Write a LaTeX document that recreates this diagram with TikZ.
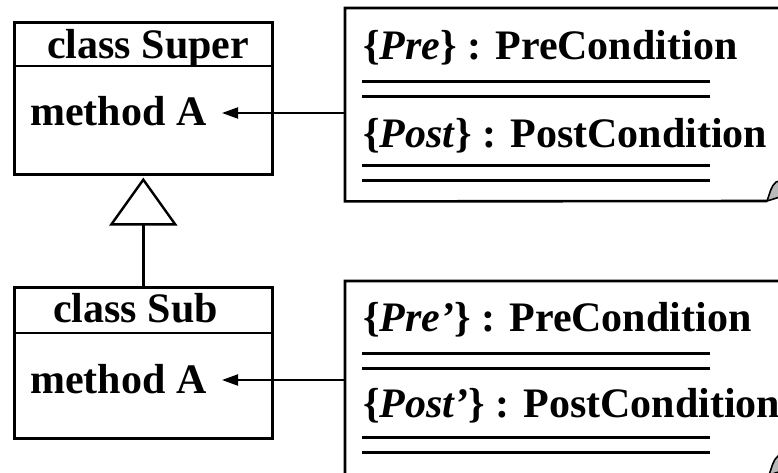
\documentclass[tikz,border=0pt]{standalone}
\usepackage{fontspec}
\setmainfont{Liberation Serif}
\usetikzlibrary{arrows.meta}
\begin{document}
\begin{tikzpicture}[x=1pt,y=-1pt,
  txt/.style={anchor=base west, inner sep=0pt, font=\fontsize{42}{50}\selectfont\bfseries},
  classbox/.style={draw, line width=2.6pt, anchor=north west, inner sep=0pt,
    minimum width=258pt},
  notearea/.style={anchor=north west, inner sep=0pt, minimum width=450pt},
  outline/.style={line width=2.6pt, line join=miter},
  rule/.style={line width=3pt},
  conn/.style={line width=2pt, -{Triangle[length=16pt,width=11pt]}},
  inherit/.style={line width=2.4pt, -{Triangle[open,length=48pt,width=68pt,fill=white]}},
  curl/.style={fill=gray!55, draw, line width=1.6pt, line join=round},
]
\useasboundingbox (0,0) rectangle (778,472);
\clip (0,0) rectangle (778,472);

% ---- class Super ----
\node[classbox, minimum height=152pt] (super) at (13,21) {};
\draw[outline] (13,66) -- (271,66);
\node[txt] (superName) at (47,58) {class Super};
\node[txt] (superM) at (30,125) {method A};
\coordinate (superTip) at (222,113);

% ---- class Sub ----
\node[classbox, minimum height=151pt] (sub) at (13,286) {};
\draw[outline] (13,333) -- (271,333);
\node[txt] (subName) at (53,322) {class Sub};
\node[txt] (subM) at (30,393) {method A};
\coordinate (subTip) at (222,380);

% ---- generalisation ----
\draw[inherit] (sub.north) -- ([yshift=-2pt]super.south);

% ---- note attached to class Super ----
\node[notearea, minimum height=193pt] (note1) at (345,8) {};
\draw[outline] (note1.north east) -- (note1.north west) -- (note1.south west) -- (767,201);
\draw[curl] (767,201) .. controls (770,193) and (771,186) .. (776,182)
  -- (783,180) -- (783,196) -- cycle;
\node[txt] (pre1) at (363,59) {\{\textit{Pre}\} : PreCondition};
\draw[rule] (362,81) -- (710,81);
\draw[rule] (362,96) -- (710,96);
\node[txt] (post1) at (363,147) {\{\textit{Post}\} : PostCondition};
\draw[rule] (362,165) -- (710,165);
\draw[rule] (362,180) -- (710,180);
\draw[conn] (note1.west |- superTip) -- (superTip);

% ---- note attached to class Sub ----
\node[notearea, minimum height=194pt] (note2) at (345,281) {};
\draw[outline] (note2.north east) -- (note2.north west) -- (note2.south west) -- (769,475);
\draw[curl] (769,475) .. controls (772,467) and (773,460) .. (778,456)
  -- (785,454) -- (785,470) -- cycle;
\node[txt] (pre2) at (363,331) {\{\textit{Pre’}\} : PreCondition};
\draw[rule] (362,353) -- (710,353);
\draw[rule] (362,368) -- (710,368);
\node[txt] (post2) at (363,417) {\{\textit{Post’}\} : PostCondition};
\draw[rule] (362,437) -- (710,437);
\draw[rule] (362,452) -- (710,452);
\draw[conn] (note2.west |- subTip) -- (subTip);
\end{tikzpicture}
\end{document}
